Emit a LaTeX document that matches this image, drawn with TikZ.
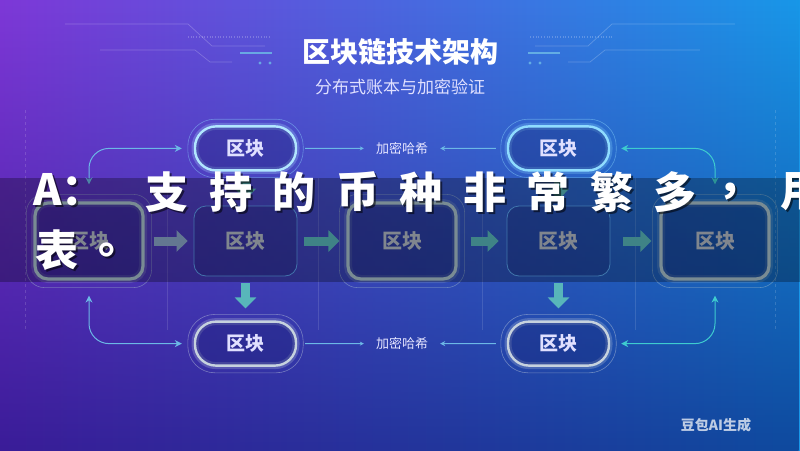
\documentclass[tikz,border=0pt]{standalone}
\usepackage{fontspec}
\setmainfont{Noto Sans CJK SC}
\newfontfamily\cjk{Noto Sans CJK SC}
\usepackage{xcolor}
\usepackage{tikz}
\usetikzlibrary{arrows.meta, positioning, calc, fadings}
\definecolor{bgpurple}{HTML}{7E38D8}
\definecolor{bgblue}{HTML}{1897E8}
\definecolor{deeppurple}{HTML}{3A1C98}
\definecolor{deepblue}{HTML}{0E4A9E}
\definecolor{linkblue}{HTML}{6CB8E6}
\definecolor{flowteal}{HTML}{58B6BA}
\definecolor{flowgray}{HTML}{8AA6CA}
\definecolor{blockgray}{HTML}{B2BAC6}
\definecolor{rimgray}{HTML}{A8C2CC}
\definecolor{pillcyan}{HTML}{8FDCFF}
\definecolor{pillwhite}{HTML}{C6D2DE}
\definecolor{navyfill}{HTML}{141A66}

\begin{document}
\begin{tikzpicture}[
    x=1pt, y=-1pt,
    node distance=34pt and 50pt,
    core/.style={rectangle, rounded corners=13pt, minimum width=108pt, minimum height=76pt, draw=rimgray, line width=3.2pt, fill=navyfill, fill opacity=0.3, draw opacity=1, text opacity=1, text=blockgray, font=\cjk\bfseries\fontsize{20}{20}\selectfont, preaction={draw=rimgray, draw opacity=0.2, line width=8pt}},
    plain/.style={rectangle, rounded corners=12pt, minimum width=103pt, minimum height=70pt, draw=#1, line width=0.8pt, fill=navyfill, fill opacity=0.25, draw opacity=0.8, text opacity=1, text=blockgray, font=\cjk\bfseries\fontsize{20}{20}\selectfont},
    pill/.style={rectangle, rounded corners=21pt, minimum width=101pt, minimum height=44pt, draw=#1, line width=2.4pt, fill=navyfill, fill opacity=0.3, draw opacity=1, text opacity=1, text=white!88!blue, font=\cjk\bfseries\fontsize{19}{19}\selectfont, preaction={draw=#1, draw opacity=0.25, line width=7pt}},
    halo/.style={draw=#1, line width=0.6pt, opacity=0.45},
    link/.style={draw=linkblue, line width=1pt, rounded corners=20pt},
    tip/.style={{Stealth[length=7pt, width=7pt]}-{Stealth[length=7pt, width=7pt]}},
    flow/.style={draw=#1, line width=9pt, -{Triangle[length=11pt, width=21pt]}},
    hashlbl/.style={text=white!90!blue, font=\cjk\fontsize{13}{13}\selectfont, inner sep=0pt},
    deco/.style={draw=white, line width=0.7pt, opacity=0.22},
    hand/.style={text=white, font=\cjk\bfseries\fontsize{43}{43}\selectfont, inner sep=0pt},
    handshade/.style={text=black, text opacity=0.55, font=\cjk\bfseries\fontsize{43}{43}\selectfont, inner sep=0pt}
]
\useasboundingbox (0,0) rectangle (800,450);

% Background
\shade[left color=bgpurple, right color=bgblue] (0,0) rectangle (800,450);
\shade[left color=deeppurple, right color=deepblue, path fading=north] (0,0) rectangle (800,450);

% Circuit lines around the title
\foreach \s in {1,-1} {
  \begin{scope}[shift={(400,0)}, xscale=\s]
    \draw[deco] (-335,24) -- (-212,24) -- (-188,46) -- (-135,46);
    \draw[deco] (-300,50) -- (-205,50) -- (-190,62) -- (-168,62);
    \draw[deco, dotted, line width=1.2pt] (-212,37) -- (-130,37);
    \draw[draw=linkblue, line width=2.5pt, opacity=0.85] (-160,53) -- (-128,53);
    \fill[linkblue, opacity=0.85] (-140,63) circle (1.6) (-130,63) circle (1.6);
  \end{scope}
}
\draw[deco, dashed, opacity=0.15] (25,110) -- (25,330);
\draw[deco, dashed, opacity=0.15] (775,110) -- (775,330);
\foreach \xx in {167,318,482,635}
  \draw[deco, opacity=0.12] (\xx,178) -- (\xx,330);

% Title
\node[text=white, font=\cjk\bfseries\fontsize{28}{28}\selectfont] (title) at (400,52) {区块链技术架构};
\node[text=white!88!blue, font=\cjk\fontsize{17}{17}\selectfont] (subtitle) at (400,87) {分布式账本与加密验证};

% Chain of blocks
\node[core] (c1) at (89,241) {区块};
\node[plain=blue!45!cyan!60, right=49pt of c1] (c2) {区块};
\node[core, right=49pt of c2] (c3) {区块};
\node[plain=blue!45!cyan!60, right=49pt of c3] (c4) {区块};
\node[core, right=49pt of c4] (c5) {区块};

% Pills
\node[pill=pillcyan!70!white, above=of c2] (tp1) {区块};
\node[pill=pillcyan, above=of c4] (tp2) {区块};
\node[pill=pillwhite, below=44pt of c2] (bp1) {区块};
\node[pill=pillwhite, below=44pt of c4] (bp2) {区块};

\foreach \n/\col in {tp1/pillcyan, tp2/pillcyan, bp1/pillwhite, bp2/pillwhite}
  \draw[halo=\col, rounded corners=27pt] ($(\n.north west)+(-6pt,6pt)$) rectangle ($(\n.south east)+(6pt,-6pt)$);
\foreach \n in {c1,c3,c5}
  \draw[halo=rimgray, rounded corners=18pt] ($(\n.north west)+(-7pt,7pt)$) rectangle ($(\n.south east)+(7pt,-7pt)$);

% Hash labels
\node[hashlbl] (hk1) at ($(tp1)!0.5!(tp2)$) {加密哈希};
\node[hashlbl] (hk2) at ($(bp1)!0.5!(bp2)$) {加密哈希};
\draw[link, -{Stealth[length=4pt, width=4pt]}, shorten <=8pt, shorten >=12pt] (tp1.east) -- (hk1.west);
\draw[link, -{Stealth[length=5pt, width=5pt]}, shorten <=11pt, shorten >=12pt] (tp2.west) -- (hk1.east);
\draw[link, -{Stealth[length=4pt, width=4pt]}, shorten <=8pt, shorten >=12pt] (bp1.east) -- (hk2.west);
\draw[link, -{Stealth[length=5pt, width=5pt]}, shorten <=11pt, shorten >=12pt] (bp2.west) -- (hk2.east);

% Side connectors
\draw[link, tip, shorten <=17pt, shorten >=12pt] (c1.north) |- (tp1.west);
\draw[link, tip, shorten <=15pt, shorten >=12pt] (c1.south) |- (bp1.west);
\draw[link, draw=flowteal!70!cyan, tip, shorten <=11pt, shorten >=17pt] (tp2.east) -| (c5.north);
\draw[link, draw=flowteal!70!cyan, tip, shorten <=11pt, shorten >=15pt] (bp2.east) -| (c5.south);

% Flow arrows
\draw[flow=flowgray] (c1.east) ++(9pt,0) -- ($(c2.west)+(-6pt,0)$);
\draw[flow=flowteal, shorten <=7pt, shorten >=7pt] (c2.east) -- (c3.west);
\draw[flow=flowteal, shorten <=13pt, shorten >=8pt] (c3.east) -- (c4.west);
\draw[flow=flowteal, shorten <=13pt, shorten >=8pt] (c4.east) -- (c5.west);
\draw[flow=flowteal, shorten <=7pt, shorten >=6pt] (tp1.south) -- (c2.north);
\draw[flow=flowteal, shorten <=7pt, shorten >=6pt] (tp2.south) -- (c4.north);
\draw[flow=flowteal, shorten <=7pt, shorten >=12pt] (c2.south) -- (bp1.north);
\draw[flow=flowteal, shorten <=7pt, shorten >=12pt] (c4.south) -- (bp2.north);

% Watermark
\node[text=white, text opacity=0.72, font=\cjk\bfseries\fontsize{14}{14}\selectfont] (mark) at (716,425) {豆包AI生成};

% Overlay band with answer text
\fill[black, opacity=0.28] (0,178) rectangle (800,282);
\node[handshade, anchor=west] at (35,192) {A：};
\node[hand, anchor=west] (ans) at (33,190) {A：};
\foreach \ch [count=\i from 0] in {支,持,的,币,种,非,常,繁,多,，,用} {
  \node[handshade] at (169+63.5*\i,194) {\ch};
  \node[hand] (w\i) at (167+63.5*\i,192) {\ch};
}
\node[handshade] at (59,252) {表};
\node[hand] (w11) at (57,250) {表};
\node[handshade] at (122,252) {。};
\node[hand] (w12) at (120,250) {。};

\end{tikzpicture}
\end{document}
